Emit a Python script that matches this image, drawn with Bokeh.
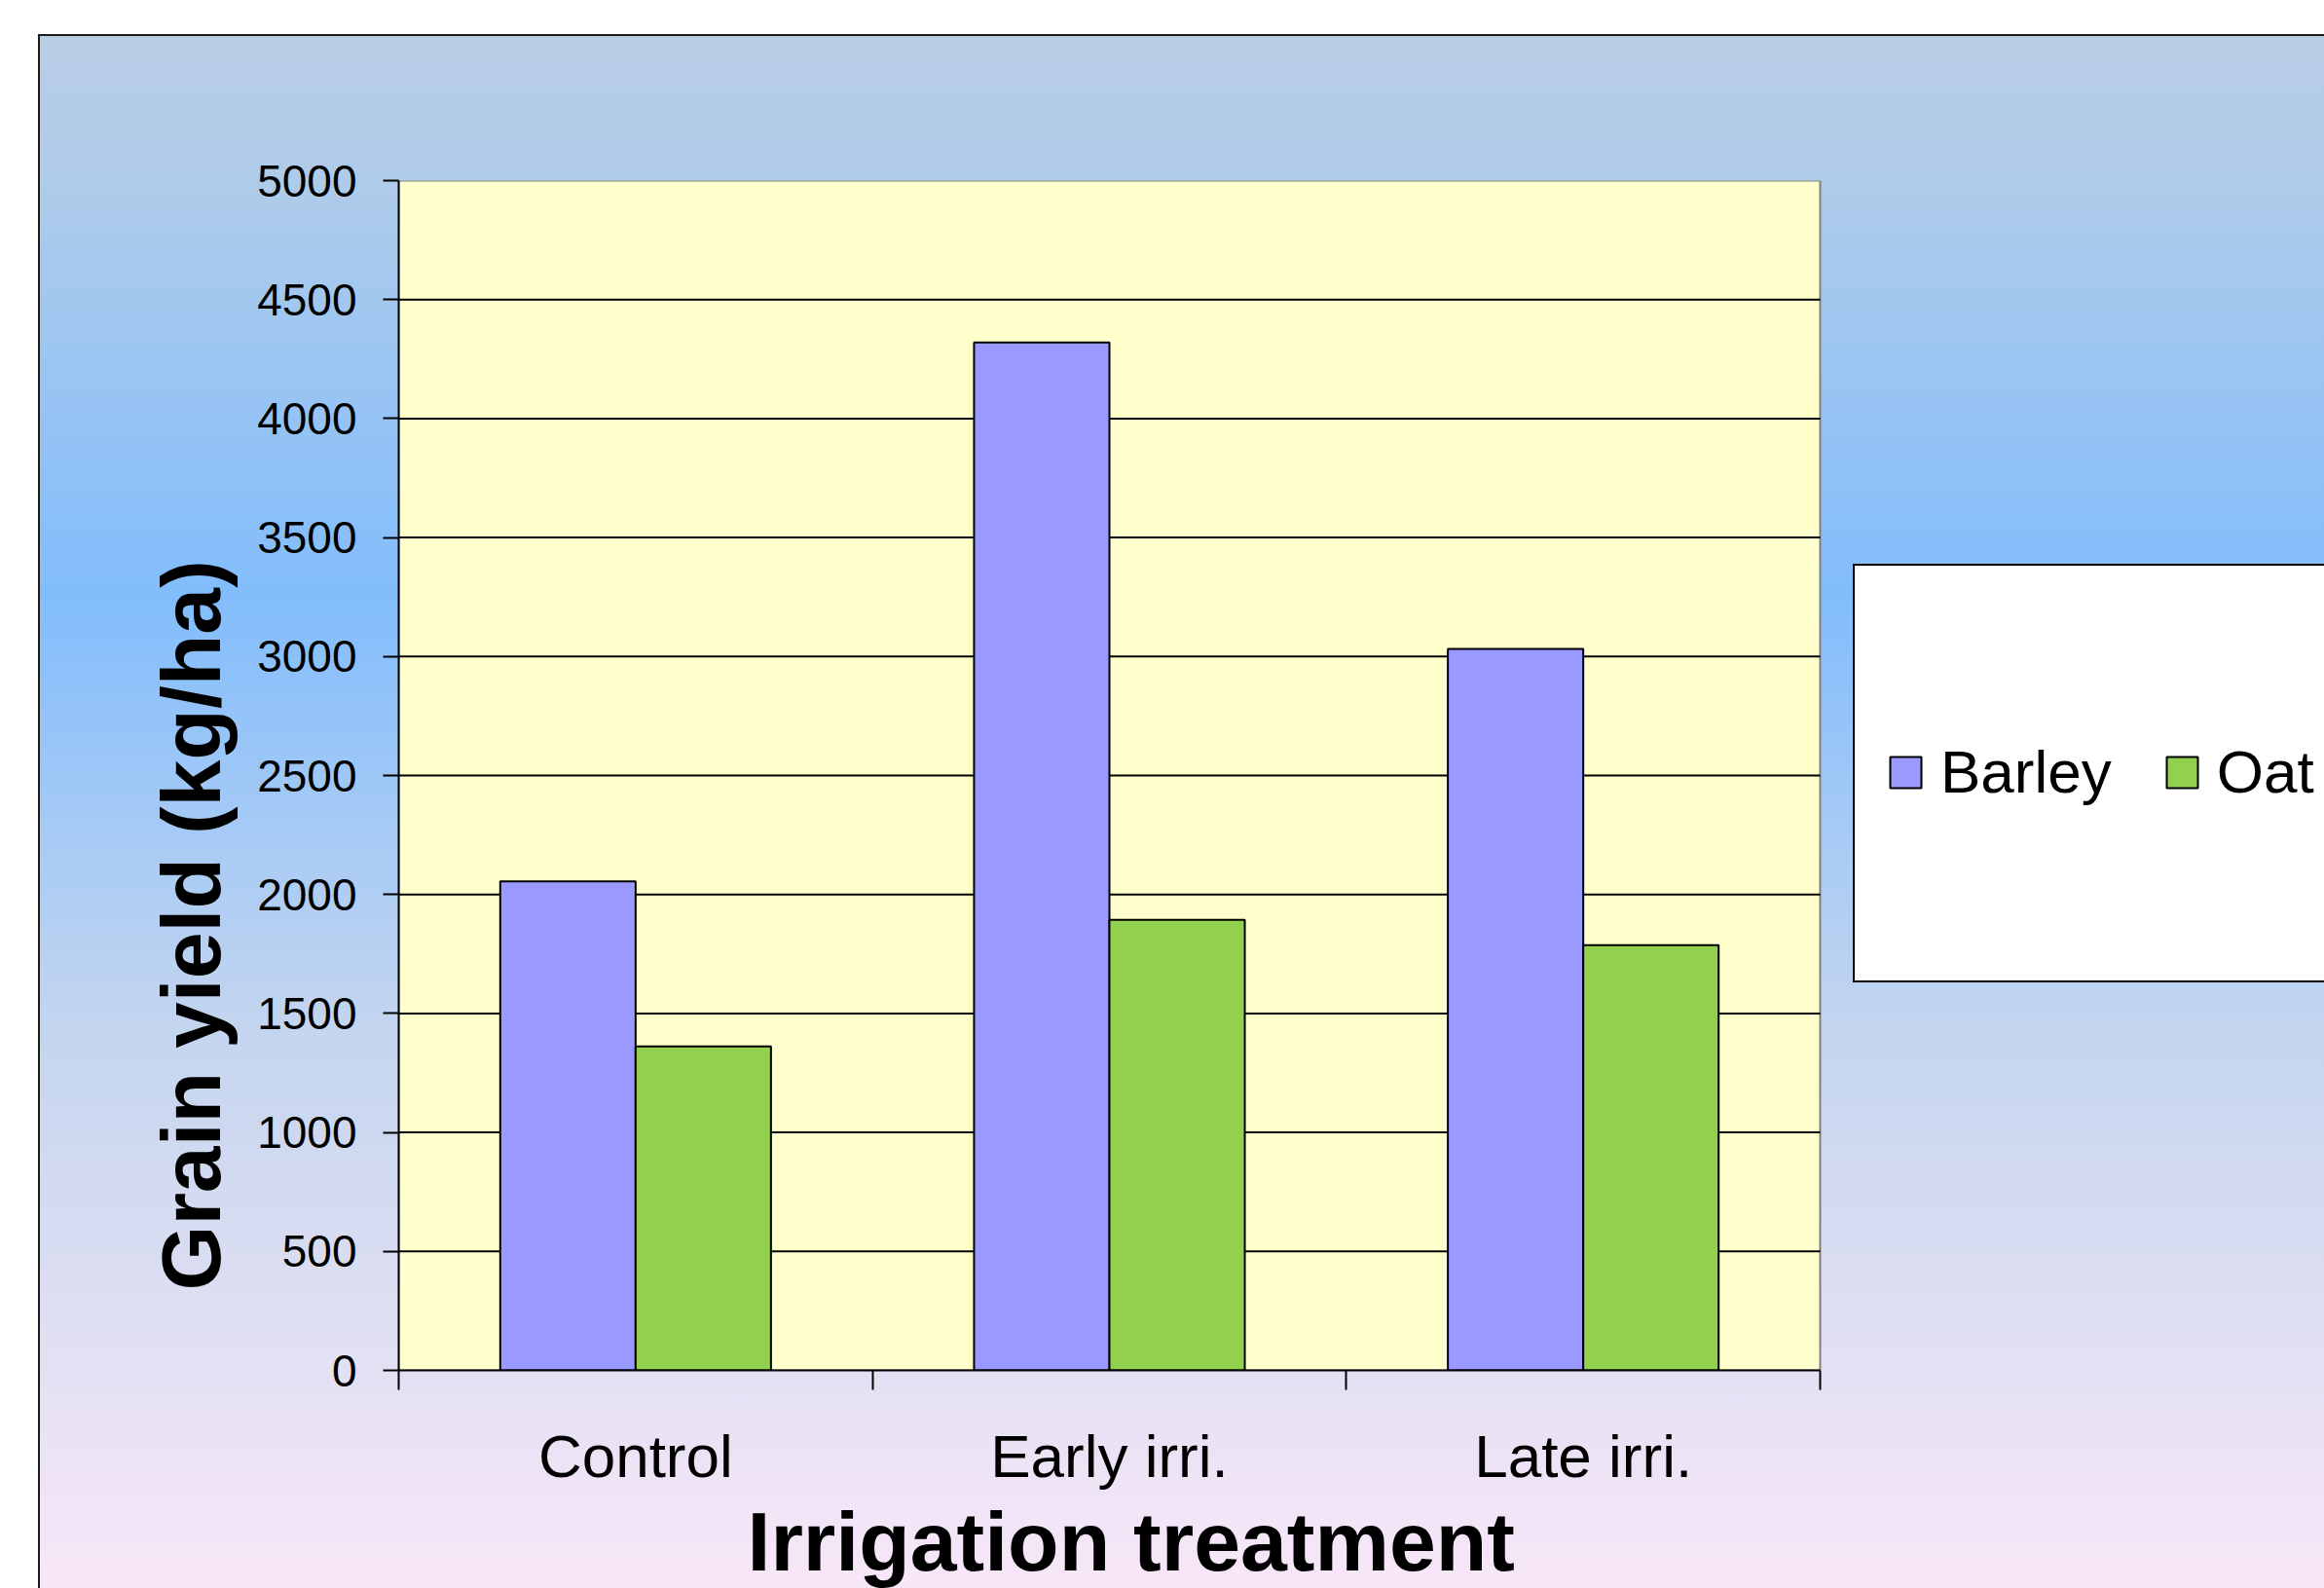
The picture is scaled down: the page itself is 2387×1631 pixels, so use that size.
import math
from bokeh.plotting import figure
from bokeh.models import (BoxAnnotation, ColumnDataSource, FixedTicker, Legend, LegendItem,
                          Range1d, Title)
from bokeh.embed import file_html
from bokeh.resources import INLINE

# ---- data ----
categories = ["Control", "Early irri.", "Late irri."]
barley = [2055, 4320, 3032]
oat = [1362, 1893, 1787]
y_ticks = [0, 500, 1000, 1500, 2000, 2500, 3000, 3500, 4000, 4500, 5000]
series_names = ["Barley", "Oat"]
series_colors = ["#9999ff", "#92d050"]
x_title = "Irrigation treatment"
y_title = "Grain yield (kg/ha)"

# ---- layout (pixels) ----
W, H = 2387, 1631
FL, FR, FT, FB = 409, 1869, 185, 1407       # plot-area box
FONT = "Liberation Sans"
n = len(categories)
ymax = y_ticks[-1]
# frame spans to the right canvas edge so the legend can live inside it
x_end = n * (W - FL) / (FR - FL)

bg_css = {
    "background-color": "#ffffff",
    "background-image": ", ".join([
        "linear-gradient(#ffffff, #ffffff)",
        "linear-gradient(#000000, #000000)",
        "linear-gradient(to bottom, #b9cde5 0%, #aecbea 10%, #82bdfc 36%, #c4d5ef 64%, #e2e0f3 85%, #f8e7f8 100%)",
        "linear-gradient(#1a1a1a, #1a1a1a)",
    ]),
    "background-position": "1905px 581px, 1903px 579px, 41px 37px, 39px 35px",
    "background-size": "700px 426px, 700px 430px, 2346px 1594px, 2348px 1596px",
    "background-repeat": "no-repeat",
}

p = figure(width=W, height=H, output_backend="svg", toolbar_location=None,
           x_range=Range1d(0, x_end), y_range=Range1d(0, ymax),
           min_border_left=FL, min_border_right=0, min_border_top=FT, min_border_bottom=H - FB,
           styles=bg_css)
p.border_fill_alpha = 0
p.background_fill_alpha = 0
p.outline_line_color = None
p.xgrid.visible = False
p.ygrid.visible = False

# plot area box
p.add_layout(BoxAnnotation(left=0, right=n, bottom=0, top=ymax, fill_color="#ffffcc",
                           fill_alpha=1, line_color="#808080", line_alpha=1, line_width=2,
                           level="image"))

# gridlines (inside the plot area only)
gt = y_ticks[1:-1]
p.segment(x0=[0] * len(gt), x1=[n] * len(gt), y0=gt, y1=gt, line_color="black",
          line_width=2, level="underlay")

# bars (Excel-style gap width 150%)
bw = 1 / 3.5
xs_b = [i + 0.5 - bw / 2 for i in range(n)]
xs_o = [i + 0.5 + bw / 2 for i in range(n)]
src_b = ColumnDataSource(dict(x=xs_b, top=barley))
src_o = ColumnDataSource(dict(x=xs_o, top=oat))
r1 = p.vbar(x="x", top="top", bottom=0, width=bw, source=src_b,
            fill_color=series_colors[0], line_color="black", line_width=2)
r2 = p.vbar(x="x", top="top", bottom=0, width=bw, source=src_o,
            fill_color=series_colors[1], line_color="black", line_width=2)

# y axis
ya = p.yaxis[0]
ya.ticker = FixedTicker(ticks=y_ticks)
ya.major_label_text_font = FONT
ya.major_label_text_font_size = "46px"
ya.major_label_text_color = "black"
ya.major_tick_out = 16
ya.major_tick_in = 0
ya.major_tick_line_width = 2
ya.major_tick_line_color = "black"
ya.minor_tick_line_color = None
ya.axis_line_width = 2
ya.axis_line_color = "black"
ya.major_label_standoff = 27

# x axis (labels at category centres, ticks at category boundaries)
xa = p.xaxis[0]
centers = [i + 0.5 for i in range(n)]
bounds = [float(i) for i in range(n + 1)]
xa.bounds = (0, n)
xa.ticker = FixedTicker(ticks=centers, minor_ticks=bounds)
xa.major_label_overrides = {c: lab for c, lab in zip(centers, categories)}
xa.major_label_text_font = FONT
xa.major_label_text_font_size = "62px"
xa.major_label_text_color = "black"
xa.major_tick_out = 0
xa.major_tick_in = 0
xa.minor_tick_out = 20
xa.minor_tick_in = 0
xa.minor_tick_line_color = "black"
xa.minor_tick_line_width = 2
xa.axis_line_width = 2
xa.axis_line_color = "black"
xa.major_label_standoff = 33

# axis titles as side-panel titles, shifted along the axis like the original
p.add_layout(Title(text=x_title, align="left", offset=767 - FL, standoff=0,
                   text_font=FONT, text_font_size="86px", text_font_style="bold",
                   text_color="black"), "below")
p.add_layout(Title(text=y_title, align="left", offset=FB - 1325, standoff=35,
                   text_font=FONT, text_font_size="86px", text_font_style="bold",
                   text_color="black"), "left")

# legend (box drawn by page background)
legend = Legend(items=[LegendItem(label=series_names[0], renderers=[r1]),
                       LegendItem(label=series_names[1], renderers=[r2])],
                orientation="horizontal", location=(1937 - FL, 579),
                background_fill_alpha=0, border_line_alpha=0, padding=0, margin=0,
                spacing=52, glyph_width=40, glyph_height=40, label_standoff=16,
                label_text_font=FONT, label_text_font_size="62px", label_text_color="black")
p.add_layout(legend)

open("out.html", "w").write(file_html(p, INLINE))
